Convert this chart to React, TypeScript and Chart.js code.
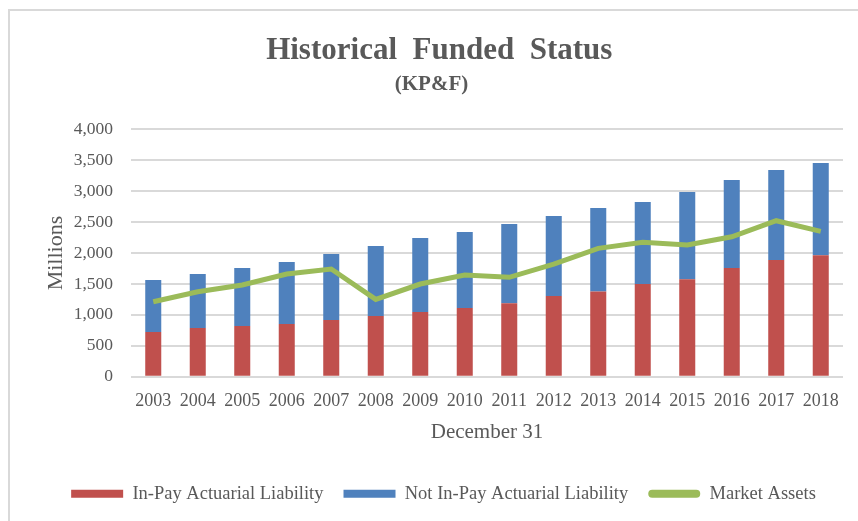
import React, { useEffect, useRef } from "react";
import { Chart, registerables } from "chart.js";

Chart.register(...registerables);

const years = ["2003", "2004", "2005", "2006", "2007", "2008", "2009", "2010", "2011", "2012", "2013", "2014", "2015", "2016", "2017", "2018"];
const inPayLiability = [723, 788, 820, 852, 917, 981, 1046, 1110, 1187, 1305, 1380, 1499, 1575, 1758, 1887, 1963];
const notInPayLiability = [840, 872, 938, 1003, 1067, 1132, 1197, 1230, 1282, 1293, 1347, 1325, 1411, 1422, 1455, 1492];
const marketAssets = [1213, 1375, 1483, 1660, 1742, 1251, 1499, 1644, 1607, 1822, 2076, 2173, 2130, 2264, 2523, 2351];
const yTicks = [0, 500, 1000, 1500, 2000, 2500, 3000, 3500, 4000];

const FONT = "'Liberation Serif', 'Times New Roman', serif";
const TEXT = "#595959";
const GRID = "#D9D9D9";

const legendShift = {
  id: "legendShift",
  afterLayout(chart: any) {
    if (chart.legend) {
      chart.legend.left += 12;
      chart.legend.right += 12;
    }
  },
};

export default function App() {
  const ref = useRef<HTMLCanvasElement | null>(null);

  useEffect(() => {
    if (!ref.current) return;
    const chart = new Chart(ref.current, {
      type: "bar",
      plugins: [legendShift],
      data: {
        labels: years,
        datasets: [
          {
            type: "bar",
            label: "In-Pay Actuarial Liability",
            data: inPayLiability,
            backgroundColor: "#C0504D",
            stack: "liab",
            categoryPercentage: 1,
            barPercentage: 0.36,
            order: 1,
          },
          {
            type: "bar",
            label: "Not In-Pay Actuarial Liability",
            data: notInPayLiability,
            backgroundColor: "#4F81BD",
            stack: "liab",
            categoryPercentage: 1,
            barPercentage: 0.36,
            order: 1,
          },
          {
            type: "line",
            label: "Market Assets",
            data: marketAssets,
            borderColor: "#9BBB59",
            backgroundColor: "#9BBB59",
            borderWidth: 5,
            pointRadius: 0,
            tension: 0,
            stack: "assets",
            order: 0,
          } as any,
        ],
      },
      options: {
        animation: false,
        responsive: false,
        layout: { padding: { left: 20, right: 15, top: 12, bottom: 8 } },
        plugins: {
          title: {
            display: true,
            text: "  Historical  Funded  Status",
            color: TEXT,
            font: { family: FONT, size: 31, weight: "bold" },
            padding: { top: 20, bottom: 3 },
          },
          subtitle: {
            display: true,
            text: "(KP&F)",
            color: TEXT,
            font: { family: FONT, size: 21, weight: "bold" },
            padding: { top: 0, bottom: 32 },
          },
          legend: {
            position: "bottom",
            labels: {
              color: TEXT,
              font: { family: FONT, size: 18.5 },
              boxWidth: 52,
              boxHeight: 8,
              padding: 20,
              sort: (a: any, b: any) => a.datasetIndex - b.datasetIndex,
              generateLabels: (c: any) => {
                const items = Chart.defaults.plugins.legend.labels.generateLabels(c);
                return items.map((it: any) => {
                  it.lineWidth = 0;
                  if (it.datasetIndex === 2) {
                    it.fillStyle = "#9BBB59";
                    it.borderRadius = 4;
                  }
                  return it;
                });
              },
            },
          },
          tooltip: { enabled: false },
        },
        scales: {
          x: {
            stacked: true,
            grid: { display: false },
            border: { display: false },
            ticks: { color: TEXT, font: { family: FONT, size: 18 }, padding: 6, maxRotation: 0, autoSkip: false },
            title: {
              display: true,
              text: "December 31",
              color: TEXT,
              font: { family: FONT, size: 21 },
              padding: { top: 2, bottom: 19 },
            },
          },
          y: {
            stacked: true,
            min: 0,
            max: 4000,
            afterFit: (s: any) => {
              s.width = 111;
            },
            afterBuildTicks: (s: any) => {
              s.ticks = yTicks.map((v) => ({ value: v }));
            },
            grid: { color: GRID, lineWidth: 2, drawTicks: false },
            border: { display: false },
            ticks: {
              color: TEXT,
              font: { family: FONT, size: 17.5 },
              padding: 18,
              callback: (v: any) => Number(v).toLocaleString("en-US"),
            },
            title: {
              display: true,
              text: "Millions",
              color: TEXT,
              font: { family: FONT, size: 22 },
              padding: { top: 23, bottom: 0 },
            },
          },
        },
      },
    });
    return () => chart.destroy();
  }, []);

  return (
    <div style={{ position: "fixed", left: 0, top: 0, width: 858, height: 521, overflow: "hidden", background: "#fff" }}>
      <div
        style={{
          position: "absolute",
          left: 8,
          top: 9,
          width: 900,
          height: 600,
          border: `2px solid ${GRID}`,
          boxSizing: "border-box",
        }}
      />
      <canvas ref={ref} width={858} height={521} style={{ position: "absolute", left: 0, top: 0, display: "block" }} />
    </div>
  );
}
